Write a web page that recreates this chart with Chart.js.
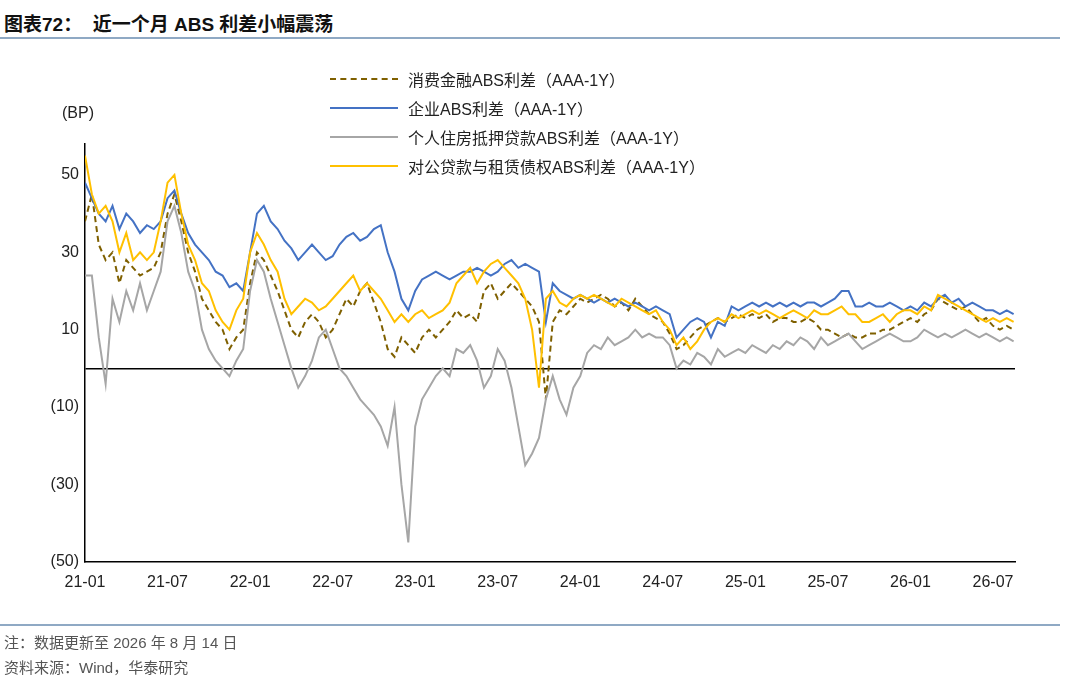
<!DOCTYPE html>
<html><head><meta charset="utf-8">
<script src="https://cdn.jsdelivr.net/npm/chart.js@4/dist/chart.umd.min.js"></script>
<style>
body{margin:0;width:1080px;height:687px;background:#fff;font-family:"Liberation Sans","Noto Sans CJK SC",sans-serif;position:relative;overflow:hidden}
#title{position:absolute;left:4px;top:9px;font-size:19px;font-weight:bold;color:#111;white-space:pre}
.rule{position:absolute;left:0;width:1060px;height:2px;background:#8fa9c4}
#legend{position:absolute;left:330px;top:64px;font-size:16px;color:#222}
.li{height:29px;display:flex;align-items:center}
.sw{width:68px;height:0;margin-right:10px}
#bp{position:absolute;left:62px;top:104px;font-size:16px;color:#222}
.note{position:absolute;left:4px;font-size:15px;color:#555}
canvas{position:absolute;left:0;top:0}
</style></head><body>
<div id="title">图表72：  近一个月 ABS 利差小幅震荡</div>
<div class="rule" style="top:37px"></div>
<canvas id="c" width="1080" height="687"></canvas>
<div id="bp">(BP)</div>
<div id="legend"></div>
<div class="rule" style="top:624px"></div>
<div class="note" style="top:631px">注：数据更新至 2026 年 8 月 14 日</div>
<div class="note" style="top:656px">资料来源：Wind，华泰研究</div>
<script>
const tickLabels = ['21-01','21-07','22-01','22-07','23-01','23-07','24-01','24-07','25-01','25-07','26-01','26-07'];
const yTicks = [-50,-30,-10,0,10,30,50];
const seriesNames = ['消费金融ABS利差（AAA-1Y）','企业ABS利差（AAA-1Y）','个人住房抵押贷款ABS利差（AAA-1Y）','对公贷款与租赁债权ABS利差（AAA-1Y）'];
// half-month steps from 2021-01
const consumer = [38,45,32,28,30,22,28,26,24,25,26,30, 40,45,38,30,25,18,15,12,10,5,8,10, 22,30,28,24,20,15,10,8,12,14,12,8,
 10,14,18,16,20,22,17,12,5,3,8,6, 4,8,10,8,10,12,15,13,14,12,20,22, 18,20,22,20,18,16,12,-8,12,15,14,16,
 18,17,18,19,18,16,17,15,18,16,14,13, 12,9,5,6,8,10,11,12,13,12,13,14, 13,14,13,14,12,13,13,12,12,13,12,10,
 10,9,8,9,8,8,9,9,10,10,11,12, 13,12,14,15,18,17,16,15,16,14,12,13, 11,10,11,10];
const corporate = [48,44,40,38,42,36,40,38,35,37,36,38, 44,46,40,35,32,30,28,25,24,21,22,20, 30,40,42,38,36,33,31,28,30,32,30,28,
 29,32,34,35,33,34,36,37,30,25,18,15, 20,23,24,25,24,23,24,25,25,26,25,24, 25,27,28,26,27,26,25,12,22,20,19,18,
 19,18,17,18,17,18,17,16,17,16,15,16, 15,14,8,10,12,13,12,8,12,11,16,15, 16,17,16,17,16,17,16,17,16,17,17,16,
 17,18,20,20,16,16,17,16,16,17,16,15, 16,15,17,16,18,19,17,18,16,17,16,15, 15,14,15,14];
const mortgage = [24,24,8,-4,18,12,20,15,22,15,20,25, 38,42,35,25,20,10,5,2,0,-2,2,5, 20,28,25,18,12,6,0,-5,-2,2,8,10,
 5,0,-2,-5,-8,-10,-12,-15,-20,-10,-30,-45, -15,-8,-5,-2,0,-2,5,4,6,2,-5,-2, 5,2,-5,-15,-25,-22,-18,-8,-2,-8,-12,-5,
 -2,4,6,5,8,6,7,8,10,8,9,8, 8,6,0,2,1,4,3,1,5,3,4,5, 4,6,5,4,6,5,7,6,8,7,5,8,
 6,7,8,9,7,5,6,7,8,9,8,7, 7,8,10,9,8,9,8,9,10,9,8,9, 8,7,8,7];
const leasing = [55,45,40,42,38,30,35,28,30,28,30,38, 48,50,40,32,28,22,20,15,12,10,15,18, 30,35,32,28,25,18,14,16,18,17,15,16,
 18,20,22,24,20,22,20,18,15,12,14,12, 14,15,13,14,15,17,22,24,26,22,25,27, 28,26,24,22,18,10,-5,18,20,17,16,18,
 19,18,19,18,17,16,18,17,16,15,14,15, 12,10,6,8,5,7,10,12,13,12,14,13, 14,15,14,15,14,13,14,15,14,13,15,14,
 14,15,16,14,14,12,12,13,14,12,14,15, 15,14,16,15,19,18,17,16,15,14,13,12, 13,12,13,12];
const colors = ['#7f6000','#4472c4','#a6a6a6','#ffc000'];
const dashes = [[6,4],[],[],[]];
const allSeries = [consumer,corporate,mortgage,leasing];

const pts = arr => arr.map((v,i)=>({x:i/2,y:v}));
// legend
const lg = document.getElementById('legend');
seriesNames.forEach((n,i)=>{
  const d=document.createElement('div');d.className='li';
  d.innerHTML='<div class="sw" style="border-top:2.5px '+(dashes[i].length?'dashed':'solid')+' '+colors[i]+'"></div>'+n;
  lg.appendChild(d);
});
const drawOrder=[2,3,0,1];
new Chart(document.getElementById('c'),{
  type:'line',
  data:{datasets:drawOrder.map(i=>({data:pts(allSeries[i]),borderColor:colors[i],borderDash:dashes[i],borderWidth:2,pointRadius:0,tension:0,order:-i}))},
  options:{
    animation:false,responsive:false,
    layout:{padding:{top:144,bottom:92,right:65,left:0}},
    plugins:{legend:{display:false},tooltip:{enabled:false}},
    scales:{
      x:{type:'linear',min:0,max:67.6,
        afterBuildTicks:s=>{s.ticks=tickLabels.map((t,i)=>({value:i*6}));},
        ticks:{autoSkip:false,maxRotation:0,color:'#222',font:{size:16},callback:(v,i)=>tickLabels[i]},
        grid:{display:false},border:{color:'#000',width:1.5}},
      y:{min:-50,max:58,
        afterBuildTicks:s=>{s.ticks=yTicks.map(v=>({value:v}));},
        afterFit:s=>{s.width=85;},
        ticks:{color:'#222',font:{size:16},padding:6,callback:v=>v===0?'':(v<0?'('+(-v)+')':v)},
        grid:{drawTicks:false,color:c=>c.tick&&c.tick.value===0?'#000':'transparent',lineWidth:1.5},
        border:{color:'#000',width:1.5}}
    }
  }
});
</script>
</body></html>
